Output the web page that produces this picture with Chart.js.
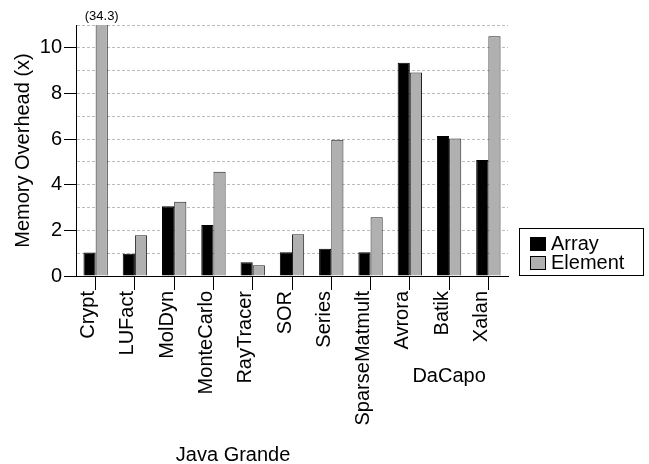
<!DOCTYPE html>
<html>
<head>
<meta charset="utf-8">
<script src="https://cdn.jsdelivr.net/npm/chart.js@4"></script>
<style>
html,body{margin:0;padding:0;background:#fff;}
canvas{display:block;}
</style>
</head>
<body>
<canvas id="c" width="649" height="464"></canvas>
<script>
const categories = ['Crypt','LUFact','MolDyn','MonteCarlo','RayTracer','SOR','Series','SparseMatmult','Avrora','Batik','Xalan'];
const arrayVals = [1.03, 0.97, 3.06, 2.24, 0.60, 1.04, 1.19, 1.04, 9.35, 6.13, 5.08];
const elementVals = [34.3, 1.79, 3.25, 4.57, 0.47, 1.83, 5.97, 2.58, 8.92, 6.03, 10.51];
const seriesNames = ['Array', 'Element'];
const groupNames = ['Java Grande', 'DaCapo'];
const groupStart = [0, 8];
const groupEnd = [7, 10];
const yMin = 0, yMax = 11;
const clippedNote = '(34.3)';

const FONT = '"Liberation Sans", Arial, Helvetica, sans-serif';
Chart.defaults.font.family = FONT;
Chart.defaults.color = '#000';

const extras = {
  id: 'extras',
  afterDraw(chart) {
    const ctx = chart.ctx;
    const x = chart.scales.x;
    const area = chart.chartArea;
    ctx.save();
    ctx.fillStyle = '#000';
    // clipped bar note
    const bar = chart.getDatasetMeta(1).data[0];
    ctx.font = '13px ' + FONT;
    ctx.textAlign = 'center';
    ctx.textBaseline = 'middle';
    ctx.fillText(clippedNote, bar.x, area.top - 9);
    // group labels
    ctx.font = '20px ' + FONT;
    const gy = [455, 376];
    groupNames.forEach((g, i) => {
      const cx = groupNames[i] === 'DaCapo'
        ? x.getPixelForValue(9)
        : (x.getPixelForValue(groupStart[i]) + x.getPixelForValue(groupEnd[i])) / 2;
      ctx.fillText(g, cx, gy[i]);
    });
    // legend
    const bx = 519.5, by = 228.5, bw = 124, bh = 47;
    ctx.lineWidth = 1;
    ctx.strokeStyle = '#000';
    ctx.strokeRect(bx, by, bw, bh);
    ctx.textAlign = 'left';
    chart.data.datasets.forEach((ds, i) => {
      const sy = 237.5 + i * 19;
      ctx.fillStyle = ds.backgroundColor;
      ctx.fillRect(530.5, sy, 15, 13);
      ctx.strokeRect(530.5, sy, 15, 13);
      ctx.fillStyle = '#000';
      ctx.fillText(ds.label, 551, sy + 7);
    });
    ctx.restore();
  }
};

new Chart(document.getElementById('c'), {
  type: 'bar',
  data: {
    labels: categories,
    datasets: [
      { label: seriesNames[0], data: arrayVals, backgroundColor: '#000000', borderColor: '#000000', borderWidth: 1 },
      { label: seriesNames[1], data: elementVals, backgroundColor: '#b0b0b0', borderColor: '#222222', borderWidth: 1 }
    ]
  },
  options: {
    responsive: false,
    devicePixelRatio: 1,
    animation: false,
    layout: { padding: { top: 25, right: 141, left: 0, bottom: 0 } },
    datasets: { bar: { categoryPercentage: 0.62, barPercentage: 1.0 } },
    plugins: { legend: { display: false }, tooltip: { enabled: false } },
    scales: {
      x: {
        offset: true,
        grid: { offset: false, drawOnChartArea: false, tickLength: 14, tickColor: '#000', color: '#000' },
        border: { color: '#000', width: 1 },
        ticks: { autoSkip: false, maxRotation: 90, minRotation: 90, padding: 1, labelOffset: -7, font: { size: 20 }, color: '#000' },
        afterFit(s) { s.height = 188; }
      },
      y: {
        min: yMin, max: yMax,
        grid: {
          color: c => (c.tick && c.tick.value === 0) ? 'rgba(0,0,0,0)' : '#bbbbbb',
          tickColor: c => (c.tick && c.tick.value % 2 === 0) ? '#000' : 'rgba(0,0,0,0)',
          tickLength: 12,
          lineWidth: 1
        },
        border: { color: '#000', width: 1, dash: [3, 2] },
        ticks: {
          stepSize: 1, autoSkip: false, padding: 2, font: { size: 20 }, color: '#000',
          callback: v => (v % 2 === 0 ? String(v) : '')
        },
        title: { display: true, text: 'Memory Overhead (x)', font: { size: 20 }, color: '#000', padding: { top: 11, bottom: 0 } },
        afterFit(s) { s.width = 76; }
      }
    }
  },
  plugins: [extras]
});
</script>
</body>
</html>
